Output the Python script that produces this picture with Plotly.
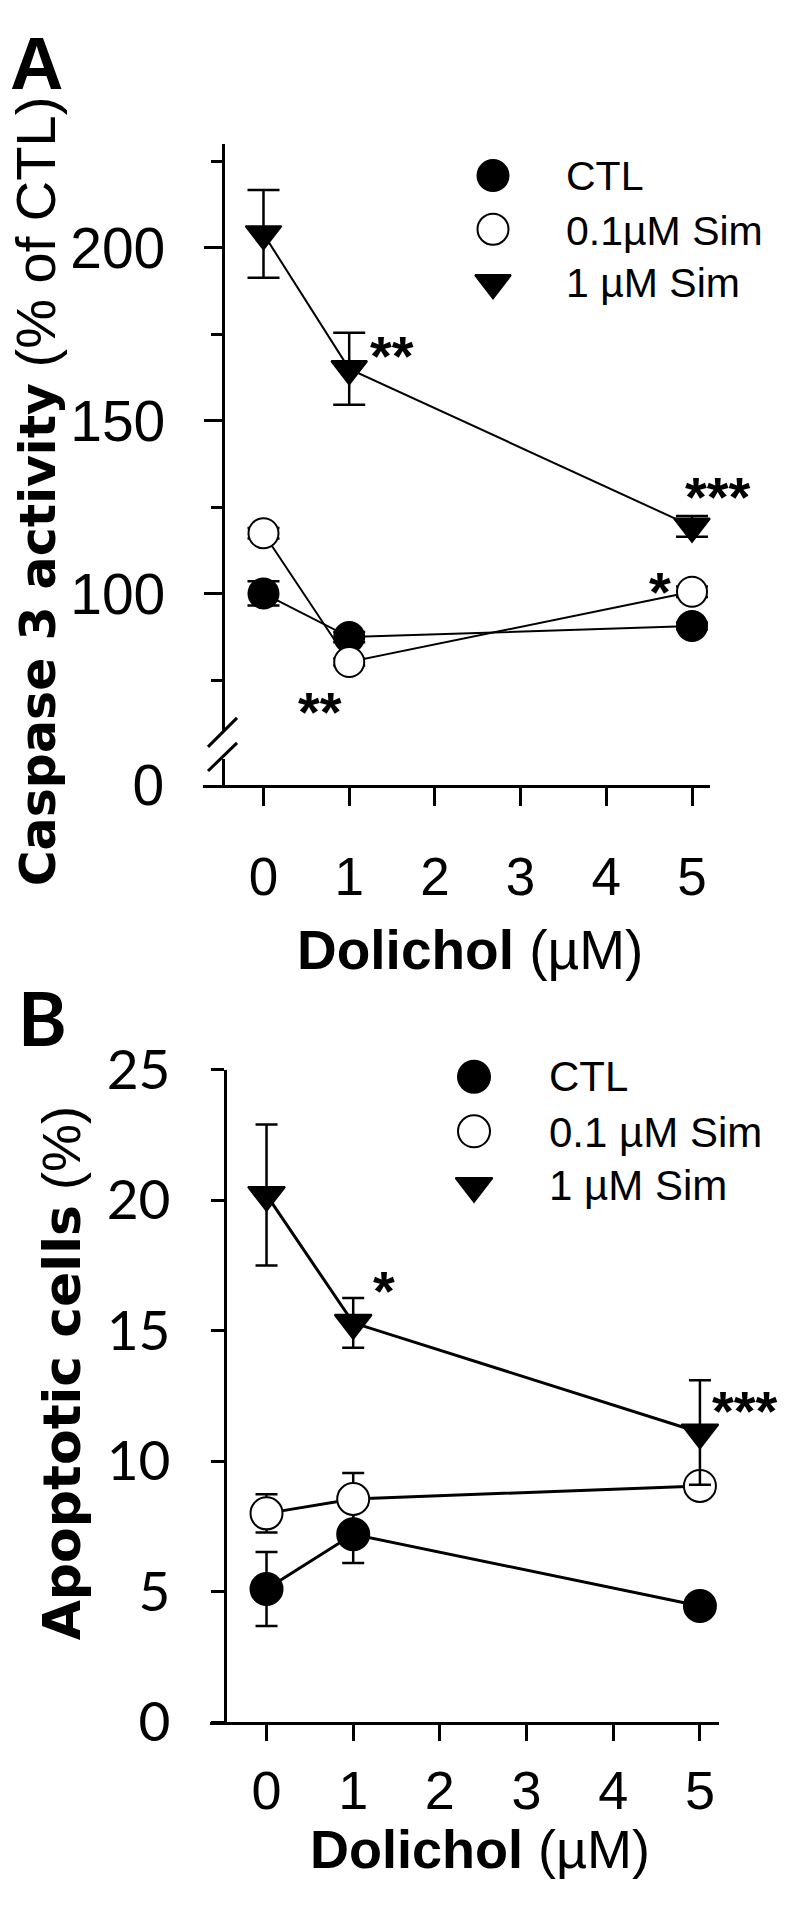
import plotly.graph_objects as go

# ---------------- data ----------------
dolichol = [0, 1, 5]
series_names = ["CTL", "0.1µM Sim", "1 µM Sim"]
series_names_b = ["CTL", "0.1 µM Sim", "1 µM Sim"]
legend_rows = [0, 1, 2]

caspase_ctl = [100.1, 87.5, 90.7]
caspase_ctl_err = [3.5, 1.5, 1.0]
caspase_sim01 = [117.5, 80.3, 100.6]
caspase_sim01_err = [1.5, 1.0, 1.5]
caspase_sim1 = [204.0, 165.0, 119.5]
caspase_sim1_err = [12.7, 10.4, 3.0]

apoptotic_ctl = [5.1, 7.2, 4.45]
apoptotic_ctl_err = [1.42, 1.1, 0.0]
apoptotic_sim01 = [8.0, 8.55, 9.05]
apoptotic_sim01_err = [0.73, 1.0, 0.2]
apoptotic_sim1 = [20.2, 15.3, 11.1]
apoptotic_sim1_err = [2.7, 0.95, 2.0]

x_ticks = [0, 1, 2, 3, 4, 5]
a_major_ticks = [100, 150, 200]
a_minor_ticks = [75, 125, 175, 225]
b_ticks = [0, 5, 10, 15, 20, 25]

# ---------------- geometry helpers ----------------
W, H = 790, 1915
def T(d):
    # vertical target position (as seen in the photographed page) -> figure pixel
    return (d - 34.7) / 0.9628
def px(x):
    return x / W
def py(y):
    return 1 - y / H
def pyT(d):
    return py(T(d))

ARIAL = "Liberation Sans, Arial, sans-serif"

fig = go.Figure()

def add_series(xs, ys, errs, xa, ya, symbol, filled, size, lw, ew, ecap):
    fig.add_trace(go.Scatter(
        x=xs, y=ys, xaxis=xa, yaxis=ya, mode="lines+markers",
        line=dict(color="black", width=lw),
        marker=dict(symbol=symbol, size=size,
                    color="black" if filled else "white",
                    line=dict(color="black", width=2)),
        error_y=dict(type="data", array=errs, visible=True,
                     color="black", thickness=ew, width=ecap),
        showlegend=False, cliponaxis=False, hoverinfo="skip"))

# Panel A
add_series(dolichol, caspase_ctl, caspase_ctl_err, "x", "y", "circle", True, 30, 2, 2.5, 16)
add_series(dolichol, caspase_sim01, caspase_sim01_err, "x", "y", "circle", False, 30, 2, 2.5, 16)
add_series(dolichol, caspase_sim1, caspase_sim1_err, "x", "y", "triangle-down", True, 31, 2, 2.5, 16)
fig.add_trace(go.Scatter(x=[], y=[], xaxis="x", yaxis="y3", showlegend=False, hoverinfo="skip"))

# Panel B
add_series(dolichol, apoptotic_ctl, apoptotic_ctl_err, "x2", "y2", "circle", True, 32, 3, 2.5, 11)
add_series(dolichol, apoptotic_sim01, apoptotic_sim01_err, "x2", "y2", "circle", False, 32, 3, 2.5, 11)
add_series(dolichol, apoptotic_sim1, apoptotic_sim1_err, "x2", "y2", "triangle-down", True, 32, 3, 2.5, 11)

# legend keys
def legend_keys(xa, ya, size):
    fig.add_trace(go.Scatter(
        x=[0, 0, 0], y=legend_rows, xaxis=xa, yaxis=ya, mode="markers",
        marker=dict(symbol=["circle", "circle", "triangle-down"], size=size,
                    color=["black", "white", "black"],
                    line=dict(color="black", width=2)),
        showlegend=False, cliponaxis=False, hoverinfo="skip"))
legend_keys("x4", "y4", 31)
legend_keys("x5", "y5", 32)

axis_common = dict(showline=True, linecolor="black", linewidth=3, showgrid=False,
                   zeroline=False, ticks="outside", tickcolor="black", tickwidth=2.5)
hidden = dict(visible=False, showgrid=False, zeroline=False)

fig.update_layout(
    width=W, height=H, margin=dict(l=0, r=0, t=0, b=0),
    paper_bgcolor="white", plot_bgcolor="rgba(0,0,0,0)", showlegend=False,
    xaxis=dict(**axis_common, domain=[px(203), px(710)], range=[-0.706, 5.21],
               anchor="y3", tickvals=x_ticks, ticklen=18, ticklabelstandoff=25,
               tickfont=dict(family=ARIAL, size=53, color="black")),
    yaxis=dict(**axis_common, domain=[pyT(730), pyT(143)], range=[60.1, 230.1],
               anchor="free", position=px(222.7), tickvals=a_major_ticks, ticklen=18,
               ticklabelstandoff=27,
               minor=dict(tickvals=a_minor_ticks, ticks="outside", ticklen=11,
                          tickwidth=2.5, tickcolor="black"),
               tickfont=dict(family=ARIAL, size=57, color="black")),
    yaxis3=dict(showline=True, linecolor="black", linewidth=3, showgrid=False,
                zeroline=False, domain=[pyT(783), pyT(757)], range=[0, 1],
                anchor="free", position=px(222.7), tickvals=[0], ticktext=["0"],
                ticks="", ticklabelstandoff=46,
                tickfont=dict(family=ARIAL, size=57, color="black")),
    xaxis2=dict(**axis_common, domain=[px(210), px(719)], range=[-0.652, 5.22],
                anchor="y2", tickvals=x_ticks, ticklen=16, ticklabelstandoff=3,
                tickfont=dict(family=ARIAL, size=54, color="black")),
    yaxis2=dict(**axis_common, domain=[pyT(1718), pyT(1067)], range=[0, 25],
                anchor="free", position=px(224.5), tickvals=b_ticks, ticklen=13,
                ticklabelstandoff=29,
                tickfont=dict(family="Lato, Open Sans, sans-serif", size=55, color="black")),
    xaxis4=dict(**hidden, domain=[px(483), px(503)], range=[-1, 1], anchor="y4"),
    yaxis4=dict(**hidden, domain=[pyT(282), pyT(175)], range=[2, 0], anchor="x4"),
    xaxis5=dict(**hidden, domain=[px(464), px(484)], range=[-1, 1], anchor="y5"),
    yaxis5=dict(**hidden, domain=[pyT(1183), pyT(1074)], range=[2, 0], anchor="x5"),
)

shapes = []
# axis break marks (panel A)
for (x0, y0, x1, y1) in [(208, 745, 237, 716), (208, 769, 237, 741)]:
    shapes.append(dict(type="line", xref="paper", yref="paper",
                       x0=px(x0), y0=pyT(y0), x1=px(x1), y1=pyT(y1),
                       line=dict(color="black", width=3)))
fig.update_layout(shapes=shapes)

ann = []
def text_at(x, yfig, text, size, family=ARIAL, xanchor="center", angle=0, bold=False):
    ann.append(dict(xref="paper", yref="paper", x=px(x), y=py(yfig), text=text,
                    showarrow=False, xanchor=xanchor, yanchor="middle",
                    textangle=angle,
                    font=dict(family=family, size=size, color="black",
                              weight="bold" if bold else "normal")))

def star(xa, ya, x, y, text, xshift=0, size=56):
    ann.append(dict(xref=xa, yref=ya, x=x, y=y, text=text, showarrow=False,
                    xanchor="center", yanchor="middle", yshift=-12, xshift=xshift,
                    font=dict(family=ARIAL, size=size, color="black", weight="bold")))

# panel letters
text_at(36, 30, "A", 74, bold=True)
text_at(42, T(1015), "B", 74, family="Lato, Liberation Sans, sans-serif", bold=True)

# y-axis titles
text_at(35, T(490),
        '<span style="font-family:DejaVu Sans;font-weight:bold;font-size:49px">Caspase 3 activity</span>'
        '<span style="font-size:56px"> (% of CTL)</span>', 54, angle=-90)
text_at(61, T(1370),
        '<span style="font-family:DejaVu Sans;font-weight:bold;font-size:52px">Apoptotic cells</span>'
        '<span style="font-size:54px"> (%)</span>', 52, angle=-90)

# x-axis titles
text_at(470, T(948), "<b>Dolichol</b> (µM)", 55)
text_at(480, 1880, "<b>Dolichol</b> (µM)", 54)

# significance marks
star("x", "y", 1.50, 172.2, "**")
star("x", "y", 5, 131.5, "***", xshift=26)
star("x", "y", 4.63, 104.1, "*")
star("x", "y", 0.66, 69.6, "**")
star("x2", "y2", 1.36, 17.0, "*")
star("x2", "y2", 5, 12.4, "***", xshift=45)

# legend labels
for name, yy in zip(series_names, [175, 230, 282]):
    text_at(564, T(yy), name, 41, xanchor="left")
for name, yy in zip(series_names_b, [1074, 1130, 1183]):
    text_at(547, T(yy), name, 42, xanchor="left")

fig.update_layout(annotations=ann)
fig.write_html("out.html", config={"displayModeBar": False},
               post_script="document.body.style.margin='0';")
